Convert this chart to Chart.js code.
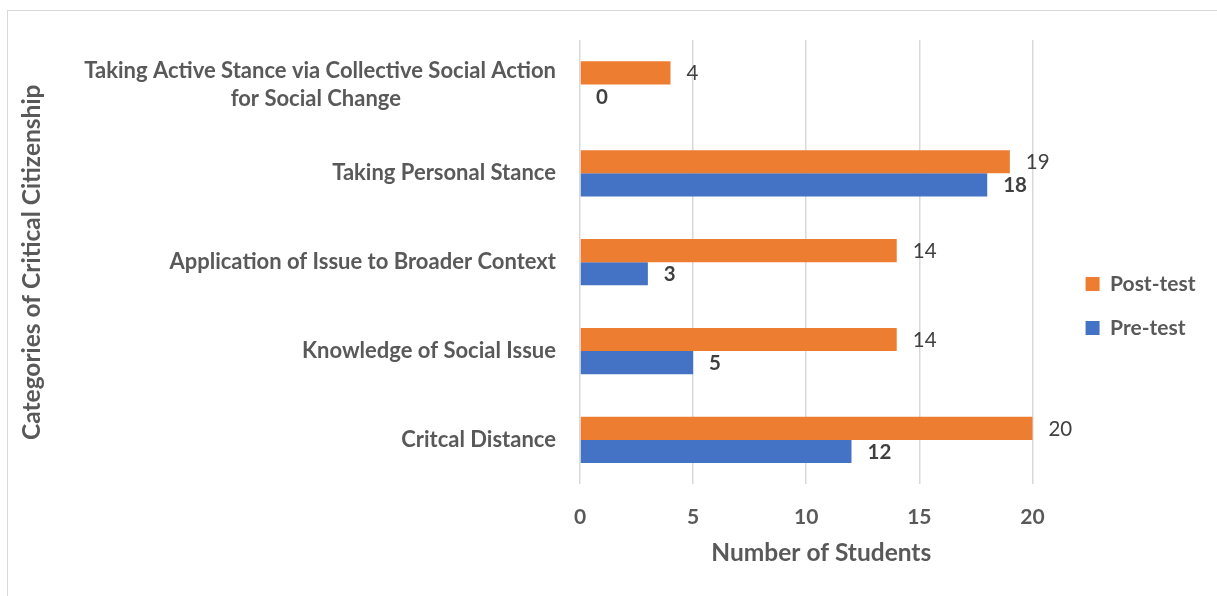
<!DOCTYPE html>
<html>
<head>
<meta charset="utf-8">
<script src="https://cdn.jsdelivr.net/npm/chart.js@4"></script>
<style>
  html, body { margin: 0; padding: 0; background: #fff; }
  #frame {
    position: absolute; left: 7px; top: 10px; right: -2px; bottom: -2px;
    border-left: 1.5px solid #d9d9d9; border-top: 1.5px solid #d9d9d9;
  }
  #wrap { position: absolute; left: 0; top: 0; width: 1217px; height: 596px; }
</style>
</head>
<body>
<div id="frame"></div>
<div id="wrap"><canvas id="chart"></canvas></div>
<script>
// --- data ---
const categories = [
    ['Taking Active Stance via Collective Social Action', 'for Social Change' + '\u00a0'.repeat(29)],
    'Taking Personal Stance',
    'Application of Issue to Broader Context',
    'Knowledge of Social Issue',
    'Critcal Distance'
];
const postTest = [4, 19, 14, 14, 20];
const preTest = [0, 18, 3, 5, 12];
const xTicks = [0, 5, 10, 15, 20];

const FONT = 'Lato, "Open Sans", sans-serif';
const GREY = '#595959';

// simple value labels drawn next to each bar end
const valueLabels = {
    id: 'valueLabels',
    afterDatasetsDraw(chart) {
        const ctx = chart.ctx;
        ctx.save();
        chart.data.datasets.forEach((ds, i) => {
            const meta = chart.getDatasetMeta(i);
            ctx.font = (ds.labelBold ? 'bold ' : '') + '20.5px ' + FONT;
            ctx.fillStyle = '#404040';
            ctx.textAlign = 'left';
            ctx.textBaseline = 'middle';
            meta.data.forEach((bar, j) => {
                ctx.fillText(ds.data[j], bar.x + 16, bar.y + 1);
            });
        });
        ctx.restore();
    }
};

new Chart(document.getElementById('chart'), {
    type: 'bar',
    data: {
        labels: categories,
        datasets: [
            {
                label: 'Post-test',
                data: postTest,
                backgroundColor: '#ED7D31',
                labelBold: false
            },
            {
                label: 'Pre-test',
                data: preTest,
                backgroundColor: '#4472C4',
                labelBold: true
            }
        ]
    },
    options: {
        indexAxis: 'y',
        responsive: true,
        maintainAspectRatio: false,
        animation: false,
        datasets: {
            bar: { barPercentage: 1, categoryPercentage: 0.52 }
        },
        layout: { padding: { top: 40, right: 11.5, bottom: 24, left: 0 } },
        scales: {
            x: {
                min: 0,
                max: 21.33,
                afterBuildTicks: (scale) => {
                    scale.ticks = xTicks.map(v => ({ value: v }));
                },
                grid: { color: '#d9d9d9', lineWidth: 1.5, drawTicks: false },
                border: { display: false },
                ticks: {
                    color: GREY,
                    padding: 20,
                    font: { family: FONT, size: 21, weight: 'bold' }
                },
                title: {
                    display: true,
                    text: 'Number of Students',
                    color: GREY,
                    padding: { top: -11, bottom: 4 },
                    font: { family: FONT, size: 24.5, weight: 'bold' }
                }
            },
            y: {
                afterFit: (scale) => { scale.width = 580; },
                grid: { display: false, drawTicks: false },
                border: { display: false },
                ticks: {
                    color: GREY,
                    padding: 24,
                    font: { family: FONT, size: 22, weight: 'bold', lineHeight: 1.27 }
                },
                title: {
                    display: true,
                    text: 'Categories of Critical Citizenship',
                    color: GREY,
                    padding: { top: 17, bottom: 0 },
                    font: { family: FONT, size: 24.5, weight: 'bold' }
                }
            }
        },
        plugins: {
            legend: {
                position: 'right',
                fullSize: true,
                labels: {
                    boxWidth: 14,
                    boxHeight: 14,
                    padding: 23,
                    color: GREY,
                    font: { family: FONT, size: 21, weight: 'bold' }
                }
            },
            tooltip: { enabled: false }
        }
    },
    plugins: [valueLabels]
});
</script>
</body>
</html>
